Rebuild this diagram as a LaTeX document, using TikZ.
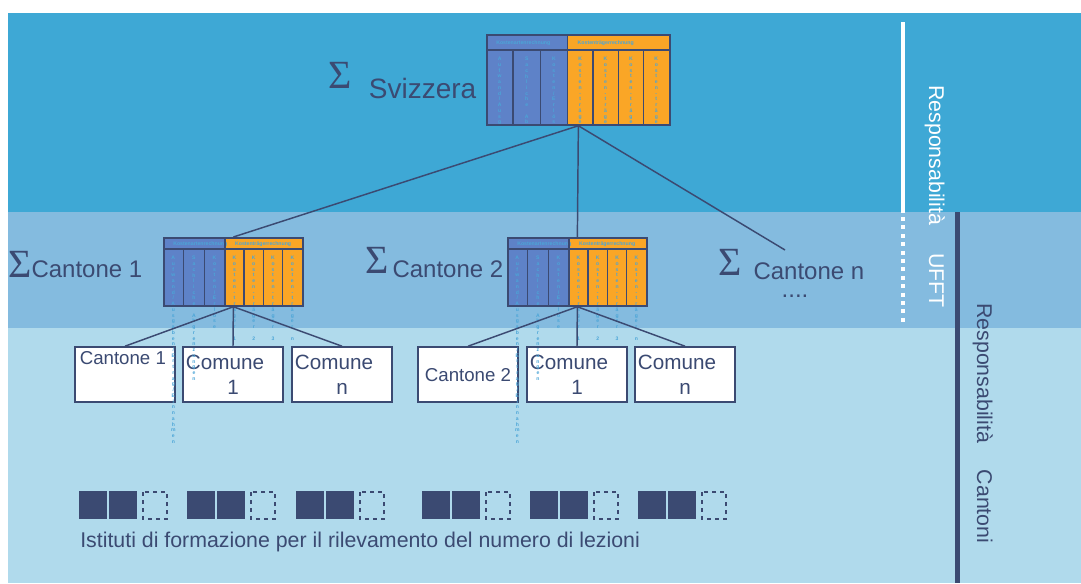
\documentclass[tikz,border=0pt]{standalone}
\usepackage{fontspec}
\setmainfont{Liberation Sans}
\newfontfamily\sigmafont{Liberation Serif}

\definecolor{bandtop}{RGB}{62,168,213}
\definecolor{bandmid}{RGB}{132,187,223}
\definecolor{bandbot}{RGB}{176,218,236}
\definecolor{navy}{RGB}{59,74,114}
\definecolor{kblau}{RGB}{94,130,200}
\definecolor{korange}{RGB}{250,166,38}
\definecolor{kschrift}{RGB}{75,165,215}

\newcommand{\summe}{{\sigmafont\fontsize{30}{30}\selectfont Σ}}
\newcommand{\vstack}[1]{\vbox{\baselineskip=4.3pt\lineskiplimit=-10pt\relax\vstackaux#1\relax}}
\def\vstackaux#1{\ifx#1\relax\else\hbox to 0pt{\hss#1\hss}\expandafter\vstackaux\fi}

\tikzset{
	kopf/.style={anchor=west, inner sep=0, text=kschrift, font=\fontsize{3.9}{4}\selectfont\bfseries},
	spalte/.style={anchor=north, inner sep=0, text=kschrift, font=\fontsize{3.8}{4.3}\selectfont\bfseries},
	gitter/.style={navy, line width = 1pt},
	tabrahmen/.style={draw=navy, line width = 1.3pt, inner sep=0},
	kasten/.style={draw=navy, fill=white, line width = 1.2pt, minimum width=75pt, minimum height=41.25pt, inner sep=0, text=navy},
	titel/.style={inner sep=0, text=navy, font=\fontsize{18}{20}\selectfont},
	verbindung/.style={navy, line width = 1.1pt}
}

% #1 name, #2 x, #3 y, #4 width, #5 height, #6 header height, #7 clip height
\newcommand{\kostentab}[7]{%
	\begin{scope}[shift={(#2,#3)}]
		\pgfmathsetmacro{\kbw}{0.445*#4}
		\pgfmathsetmacro{\kcw}{\kbw/3}
		\pgfmathsetmacro{\kow}{(#4-\kbw)/4}
		\fill[kblau] (0,0) rectangle (\kbw,#5);
		\fill[korange] (\kbw,0) rectangle (#4,#5);
		\node[kopf] (#1h1) at (10,{#6/2+1}) {Kostenartenrechnung};
		\node[kopf] (#1h2) at ({\kbw+10},{#6/2+1}) {Kostenträgerrechnung};
		\begin{scope}
			\clip (0,0) rectangle (#4,#7);
			\node[spalte] (#1s1) at ({0.5*\kcw},{#6+7}) {\vstack{Aufwand/Ausgaben/Ertrag/Einnahmen}};
			\node[spalte] (#1s2) at ({1.5*\kcw},{#6+7}) {\vstack{Sachliche~Abgrenzungen}};
			\node[spalte] (#1s3) at ({2.5*\kcw},{#6+7}) {\vstack{Kosten/Erlöse}};
			\node[spalte] (#1s4) at ({\kbw+0.5*\kow},{#6+7}) {\vstack{Kosten-träger~1}};
			\node[spalte] (#1s5) at ({\kbw+1.5*\kow},{#6+7}) {\vstack{Kosten-träger~2}};
			\node[spalte] (#1s6) at ({\kbw+2.5*\kow},{#6+7}) {\vstack{Kosten-träger~3}};
			\node[spalte] (#1s7) at ({\kbw+3.5*\kow},{#6+7}) {\vstack{Kosten-träger~n}};
		\end{scope}
		\draw[gitter] (0,#6) -- (#4,#6);
		\draw[gitter] (\kbw,0) -- (\kbw,#5);
		\foreach \i in {1,2} \draw[gitter] ({\i*\kcw},#6) -- ({\i*\kcw},#5);
		\foreach \i in {1,2,3} \draw[gitter] ({\kbw+\i*\kow},#6) -- ({\kbw+\i*\kow},#5);
	\end{scope}
	\node[tabrahmen, minimum width = {#4*0.75pt}, minimum height = {#5*0.75pt}, anchor=north west] (#1) at (#2,#3) {};
}

\begin{document}
\begin{tikzpicture}[x=0.75pt, y=-0.75pt]
	\useasboundingbox (0,0) rectangle (1081,583);
	\fill[white] (0,0) rectangle (1081,583);
	\fill[bandtop] (8,13) rectangle (1081,212);
	\fill[bandmid] (8,212) rectangle (1081,328);
	\fill[bandbot] (8,328) rectangle (1081,583);
	
	\draw[white, line width = 3pt] (903,22) -- (903,213);
	\draw[white, line width = 3.5pt, dash pattern=on 3pt off 3.3pt] (903,217) -- (903,326);
	\draw[navy, line width = 3.5pt] (957.5,212) -- (957.5,583);
	\node[rotate=-90, anchor=base west, inner sep=0, text=white, font=\fontsize{16}{18}\selectfont] (rufft) at (929,85) {Responsabilità\hspace{21pt}UFFT};
	\node[rotate=-90, anchor=base west, inner sep=0, text=navy, font=\fontsize{16}{18}\selectfont] (rkant) at (977,303) {Responsabilità\hspace{20pt}Cantoni};
	
	\node[kasten, label={[anchor=north west, inner sep=4pt, text=navy, font=\fontsize{14}{16}\selectfont]north west:Cantone 1}] (k1) at (125,374.5) {};
	\node[kasten, font=\fontsize{15.5}{19}\selectfont, align=center] (g11) at (233,374.5) {Comune\kern12pt\\1};
	\node[kasten, font=\fontsize{15.5}{19}\selectfont, align=center] (g1n) at (342,374.5) {Comune\kern12pt\\n};
	\node[kasten, font=\fontsize{14}{16}\selectfont, text depth=-3pt] (k2) at (468,374.5) {Cantone 2};
	\node[kasten, font=\fontsize{15.5}{19}\selectfont, align=center] (g21) at (577,374.5) {Comune\kern12pt\\1};
	\node[kasten, font=\fontsize{15.5}{19}\selectfont, align=center] (g2n) at (685,374.5) {Comune\kern12pt\\n};
	
	\kostentab{sv}{486}{34}{183}{90}{16}{90}
	\kostentab{cb1}{163}{237}{139}{68}{12}{230}
	\kostentab{cb2}{507}{237}{139}{68}{12}{230}
	
	\node[titel, anchor=base west, font=\fontsize{21}{24}\selectfont] (lsv) at (328,98) {\raisebox{7.5pt}{\summe}\hspace{13pt}Svizzera};
	\node[titel, anchor=base west] (lc1) at (8,277) {\summe Cantone 1};
	\node[titel, anchor=base west] (lc2) at (365,277) {\raisebox{3pt}{\summe}\hspace{3pt}Cantone 2};
	\node[titel, anchor=base west] (lcn) at (718,279) {\raisebox{3pt}{\summe}\hspace{9pt}Cantone n};
	\node[titel, anchor=base] (dots) at (795,297) {....};
	\coordinate (cnend) at (785,250);
	
	\draw[verbindung] (sv.south) -- (cb1.north);
	\draw[verbindung] (sv.south) -- (cb2.north);
	\draw[verbindung] (sv.south) -- (cnend);
	\foreach \k in {k1,g11,g1n} \draw[verbindung] (cb1.south) -- (\k.north);
	\foreach \k in {k2,g21,g2n} \draw[verbindung] (cb2.south) -- (\k.north);
	
	\foreach \g in {79,187,296,422,530,638} {
		\fill[navy] (\g,491) rectangle ++(28,28);
		\fill[navy] (\g+30,491) rectangle ++(28,28);
		\draw[navy, dashed, line width = 0.8pt] (\g+64,492) rectangle ++(24,27);
	}
	\node[anchor=base west, inner sep=0, text=navy, font=\fontsize{16}{18}\selectfont] (inst) at (80,547) {Istituti di formazione per il rilevamento del numero di lezioni};
\end{tikzpicture}
\end{document}
